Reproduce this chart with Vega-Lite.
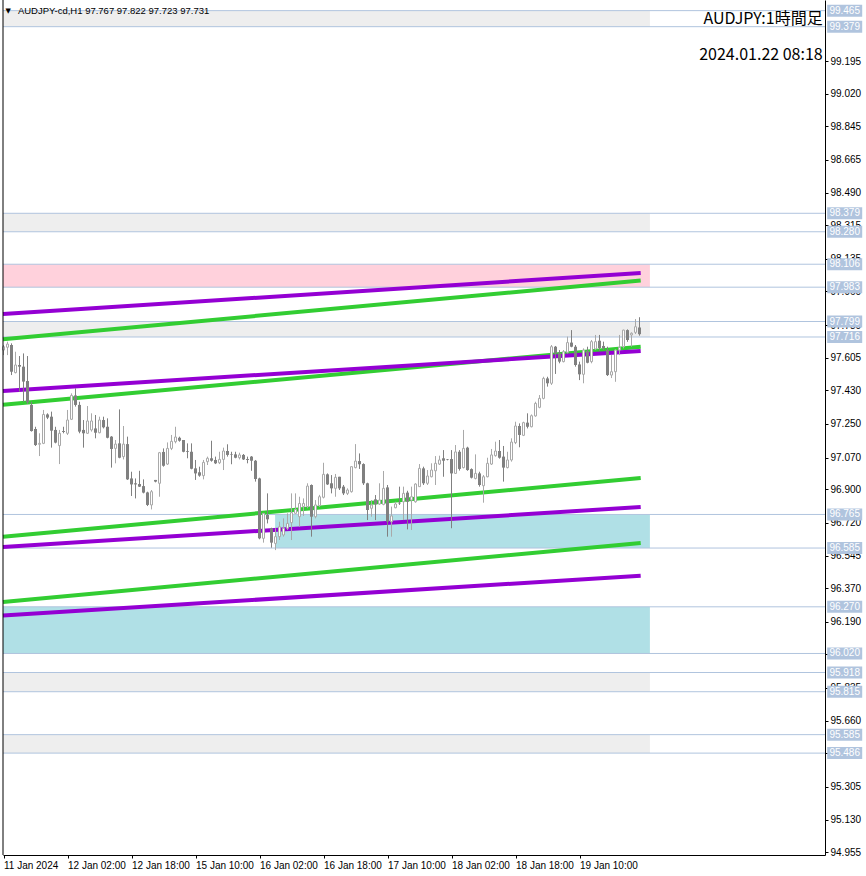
{
"$schema": "https://vega.github.io/schema/vega-lite/v6.json",
"width": 822, "height": 855,
"autosize": "none",
"padding": {"left": 3, "top": 0, "right": 41, "bottom": 21},
"background": "white",
"view": {"stroke": null},
"config": {"font": "Liberation Sans", "axis": {"grid": false, "tickSize": 3, "tickColor": "black", "domainColor": "black", "labelColor": "black", "labelFontSize": 10, "labelFont": "Liberation Sans", "labelPadding": 2, "labelOverlap": false, "labelFlush": false, "titleFontSize": 0, "titlePadding": 0}},
"datasets": {
"zones": [
{"x1": -0.125, "x2": 161.6, "y1": 99.465, "y2": 99.379, "k": "gray"},
{"x1": -0.125, "x2": 161.6, "y1": 98.379, "y2": 98.280, "k": "gray"},
{"x1": -0.125, "x2": 161.6, "y1": 98.106, "y2": 97.983, "k": "pink"},
{"x1": -0.125, "x2": 161.6, "y1": 97.799, "y2": 97.716, "k": "gray"},
{"x1": 67.9, "x2": 161.6, "y1": 96.765, "y2": 96.585, "k": "blue"},
{"x1": -0.125, "x2": 161.6, "y1": 96.270, "y2": 96.020, "k": "blue"},
{"x1": -0.125, "x2": 161.6, "y1": 95.918, "y2": 95.815, "k": "gray"},
{"x1": -0.125, "x2": 161.6, "y1": 95.585, "y2": 95.486, "k": "gray"}
],
"levels": [
{"v": 99.465}, {"v": 99.379}, {"v": 98.379}, {"v": 98.280}, {"v": 98.106}, {"v": 97.983}, {"v": 97.799}, {"v": 97.716},
{"v": 96.765}, {"v": 96.585}, {"v": 96.270}, {"v": 96.020}, {"v": 95.918}, {"v": 95.815}, {"v": 95.585}, {"v": 95.486}
],
"lines": [
{"id": "G1", "k": "green", "i": -0.125, "p": 97.704}, {"id": "G1", "k": "green", "i": 159.3, "p": 98.019},
{"id": "G2", "k": "green", "i": -0.125, "p": 97.353}, {"id": "G2", "k": "green", "i": 159.3, "p": 97.664},
{"id": "G3", "k": "green", "i": -0.125, "p": 96.646}, {"id": "G3", "k": "green", "i": 159.3, "p": 96.960},
{"id": "G4", "k": "green", "i": -0.125, "p": 96.296}, {"id": "G4", "k": "green", "i": 159.3, "p": 96.612},
{"id": "P1", "k": "purple", "i": -0.125, "p": 97.839}, {"id": "P1", "k": "purple", "i": 159.3, "p": 98.059},
{"id": "P2", "k": "purple", "i": -0.125, "p": 97.427}, {"id": "P2", "k": "purple", "i": 159.3, "p": 97.641},
{"id": "P3", "k": "purple", "i": -0.125, "p": 96.591}, {"id": "P3", "k": "purple", "i": 159.3, "p": 96.805},
{"id": "P4", "k": "purple", "i": -0.125, "p": 96.223}, {"id": "P4", "k": "purple", "i": 159.3, "p": 96.437}
],
"candles": [
{"i":0,"o":97.646,"h":97.673,"l":97.619,"c":97.664},
{"i":1,"o":97.661,"h":97.691,"l":97.619,"c":97.678},
{"i":2,"o":97.673,"h":97.682,"l":97.512,"c":97.530},
{"i":3,"o":97.525,"h":97.637,"l":97.521,"c":97.566},
{"i":4,"o":97.566,"h":97.614,"l":97.423,"c":97.557},
{"i":5,"o":97.557,"h":97.628,"l":97.369,"c":97.477},
{"i":6,"o":97.480,"h":97.614,"l":97.357,"c":97.366},
{"i":7,"o":97.352,"h":97.369,"l":97.209,"c":97.212},
{"i":8,"o":97.223,"h":97.235,"l":97.132,"c":97.137},
{"i":9,"o":97.141,"h":97.200,"l":97.078,"c":97.146},
{"i":10,"o":97.146,"h":97.325,"l":97.142,"c":97.301},
{"i":11,"o":97.301,"h":97.307,"l":97.276,"c":97.284},
{"i":12,"o":97.289,"h":97.316,"l":97.123,"c":97.214},
{"i":13,"o":97.218,"h":97.235,"l":97.146,"c":97.150},
{"i":14,"o":97.134,"h":97.218,"l":97.035,"c":97.200},
{"i":15,"o":97.212,"h":97.235,"l":97.200,"c":97.207},
{"i":16,"o":97.200,"h":97.325,"l":97.191,"c":97.271},
{"i":17,"o":97.275,"h":97.414,"l":97.271,"c":97.403},
{"i":18,"o":97.403,"h":97.441,"l":97.343,"c":97.352},
{"i":19,"o":97.352,"h":97.369,"l":97.200,"c":97.209},
{"i":20,"o":97.218,"h":97.271,"l":97.123,"c":97.200},
{"i":21,"o":97.200,"h":97.346,"l":97.196,"c":97.266},
{"i":22,"o":97.218,"h":97.307,"l":97.209,"c":97.266},
{"i":23,"o":97.226,"h":97.298,"l":97.173,"c":97.203},
{"i":24,"o":97.203,"h":97.289,"l":97.200,"c":97.271},
{"i":25,"o":97.271,"h":97.289,"l":97.226,"c":97.232},
{"i":26,"o":97.235,"h":97.280,"l":97.173,"c":97.176},
{"i":27,"o":97.182,"h":97.185,"l":97.016,"c":97.116},
{"i":28,"o":97.119,"h":97.164,"l":97.039,"c":97.142},
{"i":29,"o":97.146,"h":97.328,"l":97.066,"c":97.069},
{"i":30,"o":97.075,"h":97.239,"l":97.060,"c":97.142},
{"i":31,"o":97.142,"h":97.182,"l":96.950,"c":96.953},
{"i":32,"o":96.958,"h":96.994,"l":96.864,"c":96.926},
{"i":33,"o":96.932,"h":96.958,"l":96.851,"c":96.926},
{"i":34,"o":96.928,"h":96.999,"l":96.912,"c":96.914},
{"i":35,"o":96.917,"h":96.953,"l":96.878,"c":96.882},
{"i":36,"o":96.883,"h":96.887,"l":96.810,"c":96.816},
{"i":37,"o":96.816,"h":96.896,"l":96.792,"c":96.887},
{"i":38,"o":96.950,"h":96.950,"l":96.937,"c":96.941},
{"i":39,"o":96.932,"h":97.100,"l":96.860,"c":97.096},
{"i":40,"o":97.100,"h":97.119,"l":97.021,"c":97.026},
{"i":41,"o":97.035,"h":97.151,"l":97.030,"c":97.119},
{"i":42,"o":97.119,"h":97.191,"l":97.110,"c":97.157},
{"i":43,"o":97.155,"h":97.235,"l":97.146,"c":97.180},
{"i":44,"o":97.176,"h":97.182,"l":97.155,"c":97.160},
{"i":45,"o":97.164,"h":97.164,"l":97.098,"c":97.101},
{"i":46,"o":97.105,"h":97.146,"l":97.066,"c":97.101},
{"i":47,"o":97.101,"h":97.146,"l":97.007,"c":97.010},
{"i":48,"o":97.012,"h":97.057,"l":96.950,"c":96.985},
{"i":49,"o":96.991,"h":97.021,"l":96.967,"c":96.973},
{"i":50,"o":96.973,"h":97.057,"l":96.953,"c":97.044},
{"i":51,"o":97.048,"h":97.075,"l":97.030,"c":97.066},
{"i":52,"o":97.066,"h":97.160,"l":97.048,"c":97.053},
{"i":53,"o":97.057,"h":97.075,"l":97.035,"c":97.039},
{"i":54,"o":97.042,"h":97.101,"l":97.035,"c":97.060},
{"i":55,"o":97.060,"h":97.123,"l":97.003,"c":97.105},
{"i":56,"o":97.105,"h":97.141,"l":97.075,"c":97.084},
{"i":57,"o":97.087,"h":97.101,"l":97.034,"c":97.084},
{"i":58,"o":97.087,"h":97.101,"l":97.066,"c":97.069},
{"i":59,"o":97.069,"h":97.096,"l":97.060,"c":97.084},
{"i":60,"o":97.084,"h":97.089,"l":97.057,"c":97.060},
{"i":61,"o":97.062,"h":97.075,"l":97.039,"c":97.057},
{"i":62,"o":97.075,"h":97.078,"l":96.999,"c":97.053},
{"i":63,"o":97.053,"h":97.057,"l":96.941,"c":96.955},
{"i":64,"o":96.958,"h":96.962,"l":96.632,"c":96.637},
{"i":65,"o":96.637,"h":96.771,"l":96.614,"c":96.771},
{"i":66,"o":96.762,"h":96.878,"l":96.717,"c":96.739},
{"i":67,"o":96.691,"h":96.694,"l":96.587,"c":96.614},
{"i":68,"o":96.610,"h":96.691,"l":96.574,"c":96.646},
{"i":69,"o":96.646,"h":96.726,"l":96.628,"c":96.699},
{"i":70,"o":96.655,"h":96.744,"l":96.646,"c":96.691},
{"i":71,"o":96.691,"h":96.771,"l":96.682,"c":96.717},
{"i":72,"o":96.721,"h":96.878,"l":96.628,"c":96.775},
{"i":73,"o":96.771,"h":96.878,"l":96.771,"c":96.792},
{"i":74,"o":96.753,"h":96.860,"l":96.699,"c":96.824},
{"i":75,"o":96.807,"h":96.851,"l":96.757,"c":96.824},
{"i":76,"o":96.807,"h":96.932,"l":96.798,"c":96.917},
{"i":77,"o":96.923,"h":96.926,"l":96.646,"c":96.753},
{"i":78,"o":96.753,"h":96.842,"l":96.744,"c":96.816},
{"i":79,"o":96.812,"h":96.870,"l":96.805,"c":96.860},
{"i":80,"o":96.857,"h":97.042,"l":96.851,"c":96.980},
{"i":81,"o":96.980,"h":96.985,"l":96.923,"c":96.926},
{"i":82,"o":96.932,"h":96.976,"l":96.878,"c":96.905},
{"i":83,"o":96.905,"h":96.982,"l":96.860,"c":96.964},
{"i":84,"o":96.967,"h":96.967,"l":96.896,"c":96.905},
{"i":85,"o":96.914,"h":96.923,"l":96.869,"c":96.878},
{"i":86,"o":96.878,"h":96.905,"l":96.869,"c":96.896},
{"i":87,"o":96.887,"h":97.021,"l":96.882,"c":97.021},
{"i":88,"o":97.016,"h":97.142,"l":97.012,"c":97.051},
{"i":89,"o":97.051,"h":97.092,"l":97.009,"c":97.034},
{"i":90,"o":97.035,"h":97.039,"l":96.923,"c":96.932},
{"i":91,"o":96.932,"h":96.935,"l":96.735,"c":96.789},
{"i":92,"o":96.798,"h":96.842,"l":96.753,"c":96.816},
{"i":93,"o":96.846,"h":96.869,"l":96.735,"c":96.819},
{"i":94,"o":96.821,"h":96.932,"l":96.816,"c":96.842},
{"i":95,"o":96.819,"h":96.998,"l":96.814,"c":96.905},
{"i":96,"o":96.910,"h":96.923,"l":96.646,"c":96.726},
{"i":97,"o":96.726,"h":96.807,"l":96.646,"c":96.757},
{"i":98,"o":96.801,"h":96.833,"l":96.798,"c":96.821},
{"i":99,"o":96.828,"h":96.914,"l":96.816,"c":96.824},
{"i":100,"o":96.833,"h":96.914,"l":96.735,"c":96.878},
{"i":101,"o":96.882,"h":96.892,"l":96.685,"c":96.833},
{"i":102,"o":96.842,"h":96.914,"l":96.682,"c":96.860},
{"i":103,"o":96.833,"h":96.932,"l":96.828,"c":96.928},
{"i":104,"o":96.914,"h":97.035,"l":96.914,"c":97.012},
{"i":105,"o":97.012,"h":97.021,"l":96.923,"c":96.932},
{"i":106,"o":96.932,"h":97.003,"l":96.923,"c":96.971},
{"i":107,"o":96.967,"h":97.039,"l":96.964,"c":97.003},
{"i":108,"o":96.999,"h":97.078,"l":96.923,"c":97.039},
{"i":109,"o":97.035,"h":97.080,"l":97.030,"c":97.057},
{"i":110,"o":97.066,"h":97.110,"l":96.967,"c":97.053},
{"i":111,"o":97.060,"h":97.062,"l":97.055,"c":97.057},
{"i":112,"o":97.062,"h":97.110,"l":96.691,"c":96.985},
{"i":113,"o":96.985,"h":97.137,"l":96.982,"c":97.100},
{"i":114,"o":97.101,"h":97.110,"l":97.000,"c":97.009},
{"i":115,"o":97.016,"h":97.218,"l":97.012,"c":97.119},
{"i":116,"o":97.123,"h":97.128,"l":96.999,"c":97.003},
{"i":117,"o":97.008,"h":97.012,"l":96.958,"c":96.962},
{"i":118,"o":96.958,"h":97.087,"l":96.953,"c":96.985},
{"i":119,"o":96.985,"h":96.994,"l":96.914,"c":96.923},
{"i":120,"o":96.919,"h":96.976,"l":96.828,"c":96.967},
{"i":121,"o":96.967,"h":97.069,"l":96.964,"c":97.039},
{"i":122,"o":97.035,"h":97.116,"l":97.030,"c":97.084},
{"i":123,"o":97.080,"h":97.155,"l":97.075,"c":97.105},
{"i":124,"o":97.105,"h":97.164,"l":97.064,"c":97.069},
{"i":125,"o":97.075,"h":97.132,"l":96.941,"c":97.016},
{"i":126,"o":97.016,"h":97.101,"l":97.012,"c":97.057},
{"i":127,"o":97.057,"h":97.173,"l":97.048,"c":97.153},
{"i":128,"o":97.150,"h":97.262,"l":97.142,"c":97.239},
{"i":129,"o":97.239,"h":97.253,"l":97.125,"c":97.191},
{"i":130,"o":97.189,"h":97.262,"l":97.185,"c":97.257},
{"i":131,"o":97.257,"h":97.307,"l":97.226,"c":97.235},
{"i":132,"o":97.235,"h":97.301,"l":97.232,"c":97.294},
{"i":133,"o":97.293,"h":97.369,"l":97.289,"c":97.360},
{"i":134,"o":97.339,"h":97.405,"l":97.334,"c":97.387},
{"i":135,"o":97.387,"h":97.503,"l":97.382,"c":97.494},
{"i":136,"o":97.494,"h":97.503,"l":97.450,"c":97.468},
{"i":137,"o":97.468,"h":97.673,"l":97.459,"c":97.664},
{"i":138,"o":97.664,"h":97.668,"l":97.518,"c":97.628},
{"i":139,"o":97.632,"h":97.646,"l":97.575,"c":97.584},
{"i":140,"o":97.584,"h":97.646,"l":97.580,"c":97.637},
{"i":141,"o":97.634,"h":97.718,"l":97.628,"c":97.686},
{"i":142,"o":97.686,"h":97.753,"l":97.661,"c":97.664},
{"i":143,"o":97.664,"h":97.673,"l":97.557,"c":97.566},
{"i":144,"o":97.569,"h":97.584,"l":97.485,"c":97.516},
{"i":145,"o":97.516,"h":97.655,"l":97.468,"c":97.646},
{"i":146,"o":97.641,"h":97.664,"l":97.575,"c":97.578},
{"i":147,"o":97.584,"h":97.700,"l":97.575,"c":97.691},
{"i":148,"o":97.652,"h":97.727,"l":97.646,"c":97.691},
{"i":149,"o":97.696,"h":97.727,"l":97.641,"c":97.657},
{"i":150,"o":97.668,"h":97.691,"l":97.646,"c":97.655},
{"i":151,"o":97.646,"h":97.664,"l":97.507,"c":97.512},
{"i":152,"o":97.512,"h":97.619,"l":97.496,"c":97.530},
{"i":153,"o":97.530,"h":97.650,"l":97.476,"c":97.646},
{"i":154,"o":97.646,"h":97.727,"l":97.619,"c":97.660},
{"i":155,"o":97.664,"h":97.755,"l":97.655,"c":97.753},
{"i":156,"o":97.753,"h":97.757,"l":97.690,"c":97.700},
{"i":157,"o":97.727,"h":97.741,"l":97.664,"c":97.736},
{"i":158,"o":97.741,"h":97.812,"l":97.732,"c":97.771},
{"i":159,"o":97.767,"h":97.822,"l":97.723,"c":97.731}
]
},
"layer": [
{
"data": {"name": "zones"},
"mark": {"type": "rect"},
"encoding": {
"x": {"field": "x1", "type": "quantitative", "scale": {"domain": [-0.125, 205.375], "nice": false, "zero": false, "padding": 0},
"axis": {"values": [0, 16, 32, 48, 64, 80, 96, 112, 128, 144], "tickCount": 100, "labelExpr": "['11 Jan 2024','12 Jan 02:00','12 Jan 18:00','15 Jan 10:00','16 Jan 02:00','16 Jan 18:00','17 Jan 10:00','18 Jan 02:00','18 Jan 18:00','19 Jan 10:00'][round(datum.value/16)]", "title": null, "labelAlign": "left", "labelOverlap": false}},
"x2": {"field": "x2"},
"y": {"field": "y1", "type": "quantitative", "scale": {"domain": [94.940, 99.522], "nice": false, "zero": false, "padding": 0},
"axis": {"orient": "right", "values": [99.195, 99.02, 98.845, 98.665, 98.49, 98.315, 98.135, 97.96, 97.78, 97.605, 97.43, 97.25, 97.07, 96.9, 96.72, 96.545, 96.37, 96.19, 96.015, 95.835, 95.66, 95.485, 95.305, 95.13, 94.955], "tickCount": 100, "format": ".3f", "title": null, "labelOverlap": false, "labelBound": false}},
"y2": {"field": "y2"},
"color": {"field": "k", "type": "nominal", "scale": {"domain": ["gray", "pink", "blue"], "range": ["#eeeeee", "#ffd1dc", "#b0e0e6"]}, "legend": null}
}
},
{
"data": {"name": "levels"},
"mark": {"type": "rule", "color": "#b0c4de", "strokeWidth": 1},
"encoding": {"y": {"field": "v", "type": "quantitative"}}
},
{
"data": {"name": "lines"},
"transform": [{"filter": "datum.k === 'green'"}],
"mark": {"type": "line", "color": "#32cd32", "strokeWidth": 4, "strokeCap": "butt"},
"encoding": {
"x": {"field": "i", "type": "quantitative"},
"y": {"field": "p", "type": "quantitative"},
"detail": {"field": "id"}
}
},
{
"data": {"name": "lines"},
"transform": [{"filter": "datum.k === 'purple'"}],
"mark": {"type": "line", "color": "#9400d3", "strokeWidth": 4, "strokeCap": "butt"},
"encoding": {
"x": {"field": "i", "type": "quantitative"},
"y": {"field": "p", "type": "quantitative"},
"detail": {"field": "id"}
}
},
{
"data": {"name": "candles"},
"transform": [{"filter": "datum.c < datum.o"}],
"mark": {"type": "rule", "color": "#808080", "strokeWidth": 1},
"encoding": {
"x": {"field": "i", "type": "quantitative"},
"y": {"field": "l", "type": "quantitative"},
"y2": {"field": "h"}
}
},
{
"data": {"name": "candles"},
"transform": [{"filter": "datum.c >= datum.o"}],
"mark": {"type": "rule", "color": "#a9a9a9", "strokeWidth": 1},
"encoding": {
"x": {"field": "i", "type": "quantitative"},
"y": {"field": "l", "type": "quantitative"},
"y2": {"field": "h"}
}
},
{
"data": {"name": "candles"},
"transform": [{"filter": "datum.c < datum.o"}],
"mark": {"type": "bar", "color": "#808080", "size": 3},
"encoding": {
"x": {"field": "i", "type": "quantitative"},
"y": {"field": "o", "type": "quantitative"},
"y2": {"field": "c"}
}
},
{
"data": {"name": "candles"},
"transform": [{"filter": "datum.c >= datum.o"}],
"mark": {"type": "bar", "fill": "white", "stroke": "#a9a9a9", "strokeWidth": 1, "size": 2},
"encoding": {
"x": {"field": "i", "type": "quantitative"},
"y": {"field": "o", "type": "quantitative"},
"y2": {"field": "c"}
}
},
{
"data": {"name": "levels"},
"mark": {"type": "point", "shape": "M-1,-0.343L1,-0.343L1,0.343L-1,0.343Z", "size": 1225, "filled": true, "color": "#b0c4de", "opacity": 1, "strokeWidth": 0},
"encoding": {
"x": {"datum": 210.3, "type": "quantitative"},
"y": {"field": "v", "type": "quantitative"}
}
},
{
"data": {"name": "levels"},
"mark": {"type": "text", "color": "white", "fontSize": 10, "font": "Liberation Sans", "align": "center", "baseline": "middle"},
"encoding": {
"x": {"datum": 210.3, "type": "quantitative"},
"y": {"field": "v", "type": "quantitative"},
"text": {"field": "v", "type": "quantitative", "format": ".3f"}
}
},
{
"data": {"values": [{}]},
"mark": {"type": "rule", "color": "black", "strokeWidth": 1},
"encoding": {"x": {"datum": -0.125, "type": "quantitative"}}
},
{
"data": {"values": [{}]},
"mark": {"type": "text", "text": "▼", "color": "black", "fontSize": 7, "font": "DejaVu Sans", "align": "center", "baseline": "middle"},
"encoding": {
"x": {"datum": 1.2, "type": "quantitative"},
"y": {"datum": 99.463, "type": "quantitative"}
}
},
{
"data": {"values": [{}]},
"mark": {"type": "text", "text": "AUDJPY-cd,H1  97.767 97.822 97.723 97.731", "color": "black", "fontSize": 9.5, "font": "Liberation Sans", "align": "left", "baseline": "middle"},
"encoding": {
"x": {"datum": 3.6, "type": "quantitative"},
"y": {"datum": 99.463, "type": "quantitative"}
}
},
{
"data": {"values": [{}]},
"mark": {"type": "text", "text": "AUDJPY:1時間足", "color": "black", "fontSize": 16, "font": "Noto Sans CJK JP", "align": "right", "baseline": "middle"},
"encoding": {
"x": {"datum": 204.8, "type": "quantitative"},
"y": {"datum": 99.42, "type": "quantitative"}
}
},
{
"data": {"values": [{}]},
"mark": {"type": "text", "text": "2024.01.22 08:18", "color": "black", "fontSize": 16, "font": "Noto Sans CJK JP", "align": "right", "baseline": "middle"},
"encoding": {
"x": {"datum": 204.8, "type": "quantitative"},
"y": {"datum": 99.227, "type": "quantitative"}
}
}
]
}
